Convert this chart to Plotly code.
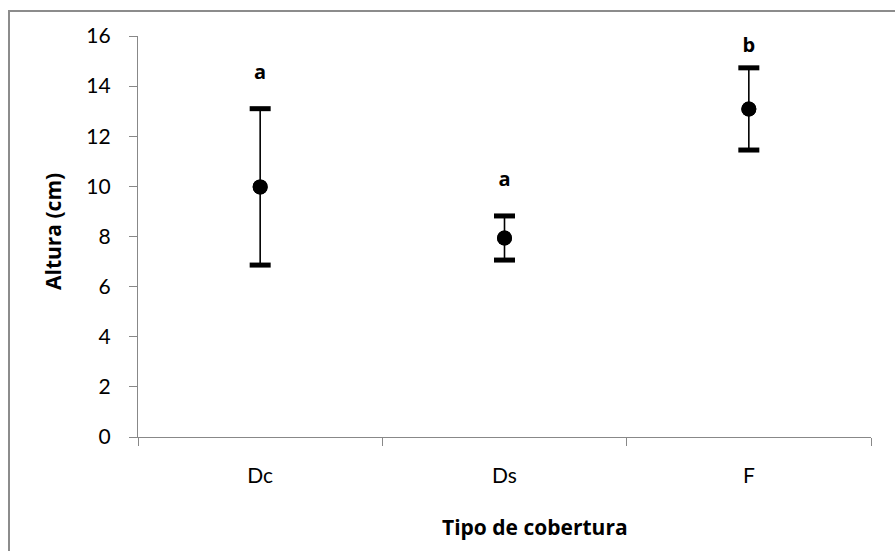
import plotly.graph_objects as go

categories = ["Dc", "Ds", "F"]
means = [9.98, 7.94, 13.09]
errors = [3.12, 0.88, 1.64]
letters = ["a", "a", "b"]
letter_y = [14.5, 10.2, 15.55]
y_ticks = [0, 2, 4, 6, 8, 10, 12, 14, 16]

W, H = 895, 551
ML, MR, MT, MB = 138, 24, 36, 114
pw, ph = W - ML - MR, H - MT - MB

def px_x(p):
    return (p - ML) / pw

def px_y(p):
    return 1 - (p - MT) / ph

FONT = "Lato, 'Open Sans', sans-serif"
BFONT = "'Open Sans', Lato, sans-serif"
FS = 21

fig = go.Figure()
# stems
fig.add_trace(go.Scatter(
    x=categories, y=means, mode="markers",
    marker=dict(symbol="circle", size=15, color="black"),
    error_y=dict(type="data", array=errors, visible=True, color="black", thickness=1.6, width=0),
    showlegend=False, hoverinfo="skip",
))
# caps
caps_x = categories + categories
caps_y = [m + e for m, e in zip(means, errors)] + [m - e for m, e in zip(means, errors)]
fig.add_trace(go.Scatter(
    x=caps_x, y=caps_y, mode="markers",
    marker=dict(symbol="line-ew", size=15, line=dict(color="black", width=5)),
    showlegend=False, hoverinfo="skip",
))
# points on top
fig.add_trace(go.Scatter(
    x=categories, y=means, mode="markers",
    marker=dict(symbol="circle", size=15, color="black"),
    showlegend=False, hoverinfo="skip",
))
# letters
fig.add_trace(go.Scatter(
    x=categories, y=letter_y, mode="text", text=["<b>%s</b>" % t for t in letters],
    textfont=dict(family=BFONT, size=20, color="black"),
    showlegend=False, hoverinfo="skip",
))

fig.update_layout(
    width=W, height=H,
    margin=dict(l=ML, r=MR, t=MT, b=MB),
    paper_bgcolor="white", plot_bgcolor="white",
    font=dict(family=FONT, size=FS, color="black"),
    xaxis=dict(
        type="category", range=[-0.5, 2.5], tickson="boundaries",
        showline=True, linecolor="#888888", linewidth=1.2,
        ticks="outside", ticklen=8, tickcolor="#888888", tickwidth=1.2,
        showgrid=False, zeroline=False, ticklabelstandoff=20,
        tickfont=dict(size=FS),
    ),
    yaxis=dict(
        range=[0, 16], tickvals=y_ticks,
        showline=True, linecolor="#888888", linewidth=1.2,
        ticks="outside", ticklen=8, tickcolor="#888888", tickwidth=1.2,
        showgrid=False, zeroline=False, ticklabelstandoff=14,
        tickfont=dict(size=FS),
    ),
    annotations=[
        dict(text="<b>Altura (cm)</b>", textangle=-90, xref="paper", yref="paper",
             x=px_x(53), y=px_y(232), showarrow=False, font=dict(family=BFONT, size=21),
             xanchor="center", yanchor="middle"),
        dict(text="<b>Tipo de cobertura</b>", xref="paper", yref="paper",
             x=px_x(535), y=px_y(527), showarrow=False, font=dict(family=BFONT, size=21),
             xanchor="center", yanchor="middle"),
    ],
    shapes=[
        dict(type="rect", xref="paper", yref="paper",
             x0=px_x(9), x1=px_x(905), y0=px_y(570), y1=px_y(11),
             line=dict(color="#8c8c8c", width=2), fillcolor="rgba(0,0,0,0)", layer="below"),
    ],
)

fig.write_html("out.html", config={"displayModeBar": False},
               post_script="document.body.style.margin='0';")
